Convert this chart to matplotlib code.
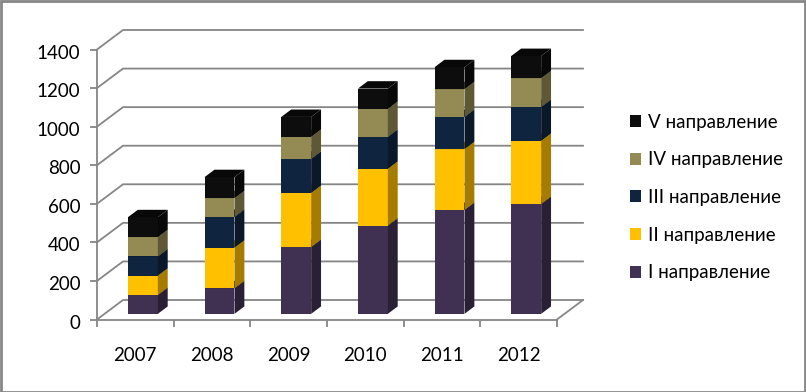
import matplotlib
matplotlib.use("Agg")

import numpy as np

import matplotlib.pyplot as plt
from matplotlib.patches import Polygon, Rectangle
from matplotlib.transforms import ScaledTranslation

plt.rcParams["font.family"] = ["Lato", "Open Sans", "DejaVu Sans"]

years = ["2007", "2008", "2009", "2010", "2011", "2012"]

series_1 = [98, 133, 347, 458, 539, 570]
series_2 = [100, 210, 280, 294, 315, 327]
series_3 = [100, 160, 177, 166, 167, 176]
series_4 = [100, 97, 114, 145, 144, 149]
series_5 = [103, 109, 103, 105, 114, 115]

labels = [
    "I направление",
    "II направление",
    "III направление",
    "IV направление",
    "V направление",
]

colors = ["#403152", "#ffc000", "#0f243e", "#948a54", "#0d0d0d"]
side_colors = ["#2a2035", "#a67c00", "#0a1829", "#5e5836", "#080808"]

W, H = 806, 392
grid_color = "#868686"

# NOTE: size of the fake 3d depth, in axis units (26 px and 19.5 px)
depth_x = 26.0 / (460.0 / 6.0)
depth_y = 19.5 / (270.0 / 1400.0)

bar_width = 0.39
bar_offset = 0.50
bar_depth_front = 0.29
bar_depth_back = 0.67


fig = plt.figure(figsize=(W / 100, H / 100), dpi=100, facecolor="white")

ax = fig.add_axes([97 / W, 1 - 319.5 / H, 460 / W, 270 / H])
ax.set_xlim(0, 6)
ax.set_ylim(0, 1400)
ax.patch.set_visible(False)

for name in ("top", "right"):
    ax.spines[name].set_visible(False)
for name in ("left", "bottom"):
    ax.spines[name].set_color(grid_color)
    ax.spines[name].set_linewidth(1.3)

# NOTE: back wall grid and the diagonals running to the front axis
for value in np.arange(0, 1401, 200):
    ax.plot(
        [0, depth_x, 6 + depth_x],
        [value, value + depth_y, value + depth_y],
        color=grid_color,
        linewidth=1.3,
        clip_on=False,
        zorder=1,
    )
ax.plot(
    [6, 6 + depth_x], [0, depth_y],
    color=grid_color, linewidth=1.3, clip_on=False, zorder=1
)

x = np.arange(len(years))
bottom = np.zeros(len(years))

for values, color, side_color, label in zip(
    [series_1, series_2, series_3, series_4, series_5],
    colors,
    side_colors,
    labels,
):
    values = np.array(values, dtype=float)

    left = x + bar_offset - bar_width / 2.0 + bar_depth_front * depth_x
    right = left + bar_width
    shift_x = (bar_depth_back - bar_depth_front) * depth_x
    shift_y = (bar_depth_back - bar_depth_front) * depth_y
    base = bottom + bar_depth_front * depth_y

    ax.bar(
        left,
        values,
        width=bar_width,
        bottom=base,
        align="edge",
        color=color,
        label=label,
        clip_on=False,
        zorder=3,
    )

    for i in range(len(years)):
        y0 = base[i]
        y1 = base[i] + values[i]
        ax.add_patch(Polygon(
            [
                (right[i], y0),
                (right[i] + shift_x, y0 + shift_y),
                (right[i] + shift_x, y1 + shift_y),
                (right[i], y1),
            ],
            closed=True, facecolor=side_color, edgecolor="none",
            clip_on=False, zorder=3
        ))
        ax.add_patch(Polygon(
            [
                (left[i], y1),
                (left[i] + shift_x, y1 + shift_y),
                (right[i] + shift_x, y1 + shift_y),
                (right[i], y1),
            ],
            closed=True, facecolor=side_color, edgecolor="none",
            clip_on=False, zorder=3
        ))

    bottom = bottom + values

ax.set_yticks(np.arange(0, 1401, 200))
ax.tick_params(
    axis="y", length=5, width=1.3, color=grid_color, pad=7,
    labelsize=13.5, labelcolor="black"
)

# NOTE: the y labels sit a little under their ticks in the original
for tick_label in ax.get_yticklabels():
    tick_label.set_transform(
        tick_label.get_transform()
        + ScaledTranslation(0, -1.5 / 72.0, fig.dpi_scale_trans)
    )

ax.set_xticks(np.arange(0, 7))
ax.set_xticklabels([])
ax.tick_params(axis="x", which="major", length=5, width=1.3, color=grid_color)
ax.set_xticks(x + 0.5, minor=True)
ax.set_xticklabels(years, minor=True)
ax.tick_params(
    axis="x", which="minor", length=0, pad=20,
    labelsize=13.5, labelcolor="black"
)

handles, legend_labels = ax.get_legend_handles_labels()
ax.legend(
    handles[::-1],
    legend_labels[::-1],
    loc="center left",
    bbox_to_anchor=(630 / W, 1 - 197.5 / H),
    bbox_transform=fig.transFigure,
    frameon=False,
    fontsize=13.5,
    handlelength=0.6,
    handleheight=0.6,
    handletextpad=0.35,
    labelspacing=1.1,
    borderpad=0,
    borderaxespad=0,
)

# NOTE: outer chart border
fig.add_artist(Rectangle(
    (0.5 / W, 0.5 / H), 1 - 1.5 / W, 1 - 1.5 / H,
    transform=fig.transFigure, fill=False,
    edgecolor=grid_color, linewidth=2.0
))

fig.savefig("out.png", dpi=100)
